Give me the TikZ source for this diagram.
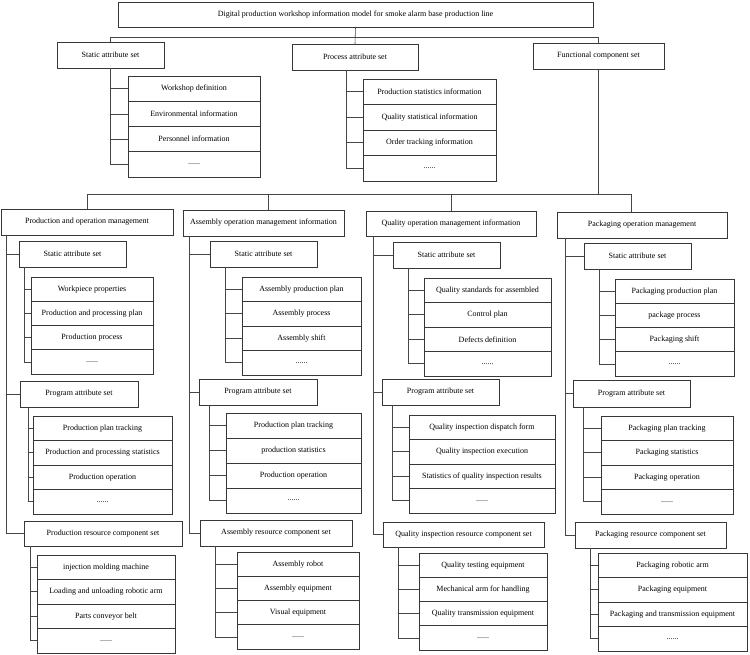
\documentclass[tikz,border=0pt]{standalone}
\usepackage{fontspec}
\setmainfont{Liberation Serif}
\usepackage{tikz}
\usetikzlibrary{positioning}
\definecolor{boxline}{RGB}{55,55,55}
\definecolor{linkline}{RGB}{70,70,70}

\begin{document}
\begin{tikzpicture}[x=1pt,y=-1pt,
  setbox/.style={draw=boxline,line width=0.7pt,fill=white,inner sep=0pt,outer sep=0pt,font=\fontsize{8}{9}\selectfont,minimum height=26pt},
  item/.style={draw=boxline,line width=0.7pt,fill=white,inner sep=0pt,outer sep=0pt,font=\fontsize{8}{9}\selectfont,minimum height=24.5pt,minimum width=#1},
  link/.style={draw=linkline,line width=0.6pt}
]
\useasboundingbox (0,0) rectangle (750,655);

% TOP: model and its three sets
\node[setbox,minimum width=475pt,minimum height=25pt] (root) at (355.5,14.5) {Digital production workshop information model for smoke alarm base production line};
\node[setbox,minimum width=107pt] (sattr) at (110.5,55) {Static attribute set};
\node[setbox,minimum width=126pt] (pattr) at (355,57) {Process attribute set};
\node[setbox,minimum width=131pt] (fcomp) at (598.5,56) {Functional component set};
\draw[link] (root.south) -- (pattr.north);
\draw[link] (sattr.north) -- ++(0,-5) -| (fcomp.north);

% static attribute items
\node[item=132pt,minimum height=25.25pt] (sa1) at (194,88.6) {Workshop definition};
\node[item=132pt,minimum height=25.25pt,below=0pt of sa1] (sa2) {Environmental information};
\node[item=132pt,minimum height=25.25pt,below=0pt of sa2] (sa3) {Personnel information};
\node[item=132pt,minimum height=25.25pt,below=0pt of sa3] (sa4) {......};
\draw[link] (sattr.south) |- (sa1.west) (sattr.south) |- (sa2.west) (sattr.south) |- (sa3.west) (sattr.south) |- (sa4.west);

% process attribute items
\node[item=133pt,minimum height=25.5pt] (pa1) at (429.5,91.75) {Production statistics information};
\node[item=133pt,minimum height=25.5pt,below=0pt of pa1] (pa2) {Quality statistical information};
\node[item=133pt,minimum height=25.5pt,below=0pt of pa2] (pa3) {Order tracking information};
\node[item=133pt,minimum height=25.5pt,below=0pt of pa3] (pa4) {......};
\coordinate (pattrsp) at ([xshift=-9pt]pattr.south);
\draw[link] (pattrsp) |- (pa1.west) (pattrsp) |- (pa2.west) (pattrsp) |- (pa3.west) (pattrsp) |- (pa4.west);

% MIDDLE: four operation management blocks
\node[setbox,minimum width=172pt] (prod) at (87,222) {Production and operation management};
\node[setbox,minimum width=161pt] (asm) at (263.5,223) {Assembly operation management information};
\node[setbox,minimum width=170pt,minimum height=25pt] (qual) at (451,223.5) {Quality operation management information};
\node[setbox,minimum width=170pt] (pack) at (642,225) {Packaging operation management};
\coordinate (bus) at (0,194);
\coordinate (asmtop) at ([xshift=4.5pt]asm.north);
\coordinate (packtop) at ([xshift=-11pt]pack.north);
\draw[link] (fcomp.south) -- (fcomp.south |- bus);
\draw[link] (prod.north) |- (packtop |- bus) -- (packtop);
\draw[link] (asmtop |- bus) -- (asmtop);
\draw[link] (qual.north |- bus) -- (qual.north);

% production column
\node[setbox,minimum width=107pt] (prodS) at (72.5,254) {Static attribute set};
\node[setbox,minimum width=118pt] (prodP) at (79,394) {Program attribute set};
\node[setbox,minimum width=158pt,minimum height=25pt] (prodR) at (103,533.5) {Production resource component set};
\coordinate (prodsp) at ([xshift=5pt]prod.south west);
\draw[link] (prodsp) |- (prodS.west) (prodsp) |- (prodP.west) (prodsp) |- (prodR.west);

\node[item=122pt,minimum height=24.25pt] (prodS1) at (92,289.1) {Workpiece properties};
\node[item=122pt,minimum height=24.25pt,below=0pt of prodS1] (prodS2) {Production and processing plan};
\node[item=122pt,minimum height=24.25pt,below=0pt of prodS2] (prodS3) {Production process};
\node[item=122pt,minimum height=24.25pt,below=0pt of prodS3] (prodS4) {......};
\coordinate (prodSsp) at ([xshift=5pt]prodS.south west);
\draw[link] (prodSsp) |- (prodS1.west) (prodSsp) |- (prodS2.west) (prodSsp) |- (prodS3.west) (prodSsp) |- (prodS4.west);

\node[item=139pt] (prodP1) at (102.5,428.25) {Production plan tracking};
\node[item=139pt,below=0pt of prodP1] (prodP2) {Production and processing statistics};
\node[item=139pt,below=0pt of prodP2] (prodP3) {Production operation};
\node[item=139pt,below=0pt of prodP3] (prodP4) {......};
\coordinate (prodPsp) at ([xshift=8pt]prodP.south west);
\draw[link] (prodPsp) |- (prodP1.west) (prodPsp) |- (prodP2.west) (prodPsp) |- (prodP3.west) (prodPsp) |- (prodP4.west);

\node[item=138pt] (prodR1) at (106,567.25) {injection molding machine};
\node[item=138pt,below=0pt of prodR1] (prodR2) {Loading and unloading robotic arm};
\node[item=138pt,below=0pt of prodR2] (prodR3) {Parts conveyor belt};
\node[item=138pt,below=0pt of prodR3] (prodR4) {......};
\coordinate (prodRsp) at ([xshift=6pt]prodR.south west);
\draw[link] (prodRsp) |- (prodR1.west) (prodRsp) |- (prodR2.west) (prodRsp) |- (prodR3.west) (prodRsp) |- (prodR4.west);

% assembly column
\node[setbox,minimum width=107pt] (asmS) at (263.5,254) {Static attribute set};
\node[setbox,minimum width=118pt] (asmP) at (258,392) {Program attribute set};
\node[setbox,minimum width=152pt] (asmR) at (276,533) {Assembly resource component set};
\coordinate (asmsp) at ([xshift=6pt]asm.south west);
\draw[link] (asmsp) |- (asmS.west) (asmsp) |- (asmP.west) (asmsp) |- (asmR.west);

\node[item=119pt] (asmS1) at (301.5,289.25) {Assembly production plan};
\node[item=119pt,below=0pt of asmS1] (asmS2) {Assembly process};
\node[item=119pt,below=0pt of asmS2] (asmS3) {Assembly shift};
\node[item=119pt,below=0pt of asmS3] (asmS4) {......};
\coordinate (asmSsp) at ([xshift=15pt]asmS.south west);
\draw[link] (asmSsp) |- (asmS1.west) (asmSsp) |- (asmS2.west) (asmSsp) |- (asmS3.west) (asmSsp) |- (asmS4.west);

\node[item=135pt,minimum height=25pt] (asmP1) at (293.5,425.5) {Production plan tracking};
\node[item=135pt,minimum height=25pt,below=0pt of asmP1] (asmP2) {production statistics};
\node[item=135pt,minimum height=25pt,below=0pt of asmP2] (asmP3) {Production operation};
\node[item=135pt,minimum height=25pt,below=0pt of asmP3] (asmP4) {......};
\coordinate (asmPsp) at ([xshift=10pt]asmP.south west);
\draw[link] (asmPsp) |- (asmP1.west) (asmPsp) |- (asmP2.west) (asmPsp) |- (asmP3.west) (asmPsp) |- (asmP4.west);

\node[item=122pt,minimum height=24.25pt] (asmR1) at (298,564.1) {Assembly robot};
\node[item=122pt,minimum height=24.25pt,below=0pt of asmR1] (asmR2) {Assembly equipment};
\node[item=122pt,minimum height=24.25pt,below=0pt of asmR2] (asmR3) {Visual equipment};
\node[item=122pt,minimum height=24.25pt,below=0pt of asmR3] (asmR4) {......};
\coordinate (asmRsp) at ([xshift=15pt]asmR.south west);
\draw[link] (asmRsp) |- (asmR1.west) (asmRsp) |- (asmR2.west) (asmRsp) |- (asmR3.west) (asmRsp) |- (asmR4.west);

% quality column
\node[setbox,minimum width=107pt] (qualS) at (446.5,255) {Static attribute set};
\node[setbox,minimum width=117pt] (qualP) at (440.5,392) {Program attribute set};
\node[setbox,minimum width=161pt,minimum height=25pt] (qualR) at (463.5,534.5) {Quality inspection resource component set};
\coordinate (qualsp) at ([xshift=7pt]qual.south west);
\draw[link] (qualsp) |- (qualS.west) (qualsp) |- (qualP.west) (qualsp) |- (qualR.west);

\node[item=127pt] (qualS1) at (487.5,290.25) {Quality standards for assembled};
\node[item=127pt,below=0pt of qualS1] (qualS2) {Control plan};
\node[item=127pt,below=0pt of qualS2] (qualS3) {Defects definition};
\node[item=127pt,below=0pt of qualS3] (qualS4) {......};
\coordinate (qualSsp) at ([xshift=15pt]qualS.south west);
\draw[link] (qualSsp) |- (qualS1.west) (qualSsp) |- (qualS2.west) (qualSsp) |- (qualS3.west) (qualSsp) |- (qualS4.west);

\node[item=146pt] (qualP1) at (482,427.25) {Quality inspection dispatch form};
\node[item=146pt,below=0pt of qualP1] (qualP2) {Quality inspection execution};
\node[item=146pt,below=0pt of qualP2] (qualP3) {Statistics of quality inspection results};
\node[item=146pt,below=0pt of qualP3] (qualP4) {......};
\coordinate (qualPsp) at ([xshift=10pt]qualP.south west);
\draw[link] (qualPsp) |- (qualP1.west) (qualPsp) |- (qualP2.west) (qualPsp) |- (qualP3.west) (qualPsp) |- (qualP4.west);

\node[item=128pt,minimum height=24.25pt] (qualR1) at (483,565.1) {Quality testing equipment};
\node[item=128pt,minimum height=24.25pt,below=0pt of qualR1] (qualR2) {Mechanical arm for handling};
\node[item=128pt,minimum height=24.25pt,below=0pt of qualR2] (qualR3) {Quality transmission equipment};
\node[item=128pt,minimum height=24.25pt,below=0pt of qualR3] (qualR4) {......};
\coordinate (qualRsp) at ([xshift=15pt]qualR.south west);
\draw[link] (qualRsp) |- (qualR1.west) (qualRsp) |- (qualR2.west) (qualRsp) |- (qualR3.west) (qualRsp) |- (qualR4.west);

% packaging column
\node[setbox,minimum width=107pt] (packS) at (637.5,256) {Static attribute set};
\node[setbox,minimum width=117pt,minimum height=27pt] (packP) at (631.5,393.5) {Program attribute set};
\node[setbox,minimum width=151pt] (packR) at (650.5,535) {Packaging resource component set};
\coordinate (packsp) at ([xshift=8pt]pack.south west);
\draw[link] (packsp) |- (packS.west) (packsp) |- (packP.west) (packsp) |- (packR.west);

\node[item=119pt,minimum height=24.25pt] (packS1) at (674.5,291.1) {Packaging production plan};
\node[item=119pt,minimum height=24.25pt,below=0pt of packS1] (packS2) {package process};
\node[item=119pt,minimum height=24.25pt,below=0pt of packS2] (packS3) {Packaging shift};
\node[item=119pt,minimum height=24.25pt,below=0pt of packS3] (packS4) {......};
\coordinate (packSsp) at ([xshift=15pt]packS.south west);
\draw[link] (packSsp) |- (packS1.west) (packSsp) |- (packS2.west) (packSsp) |- (packS3.west) (packSsp) |- (packS4.west);

\node[item=132pt] (packP1) at (667,428.25) {Packaging plan tracking};
\node[item=132pt,below=0pt of packP1] (packP2) {Packaging statistics};
\node[item=132pt,below=0pt of packP2] (packP3) {Packaging operation};
\node[item=132pt,below=0pt of packP3] (packP4) {......};
\coordinate (packPsp) at ([xshift=10pt]packP.south west);
\draw[link] (packPsp) |- (packP1.west) (packPsp) |- (packP2.west) (packPsp) |- (packP3.west) (packPsp) |- (packP4.west);

\node[item=149pt] (packR1) at (672.5,565.25) {Packaging robotic arm};
\node[item=149pt,below=0pt of packR1] (packR2) {Packaging equipment};
\node[item=149pt,below=0pt of packR2] (packR3) {Packaging and transmission equipment};
\node[item=149pt,below=0pt of packR3] (packR4) {......};
\coordinate (packRsp) at ([xshift=15pt]packR.south west);
\draw[link] (packRsp) |- (packR1.west) (packRsp) |- (packR2.west) (packRsp) |- (packR3.west) (packRsp) |- (packR4.west);
\end{tikzpicture}
\end{document}
